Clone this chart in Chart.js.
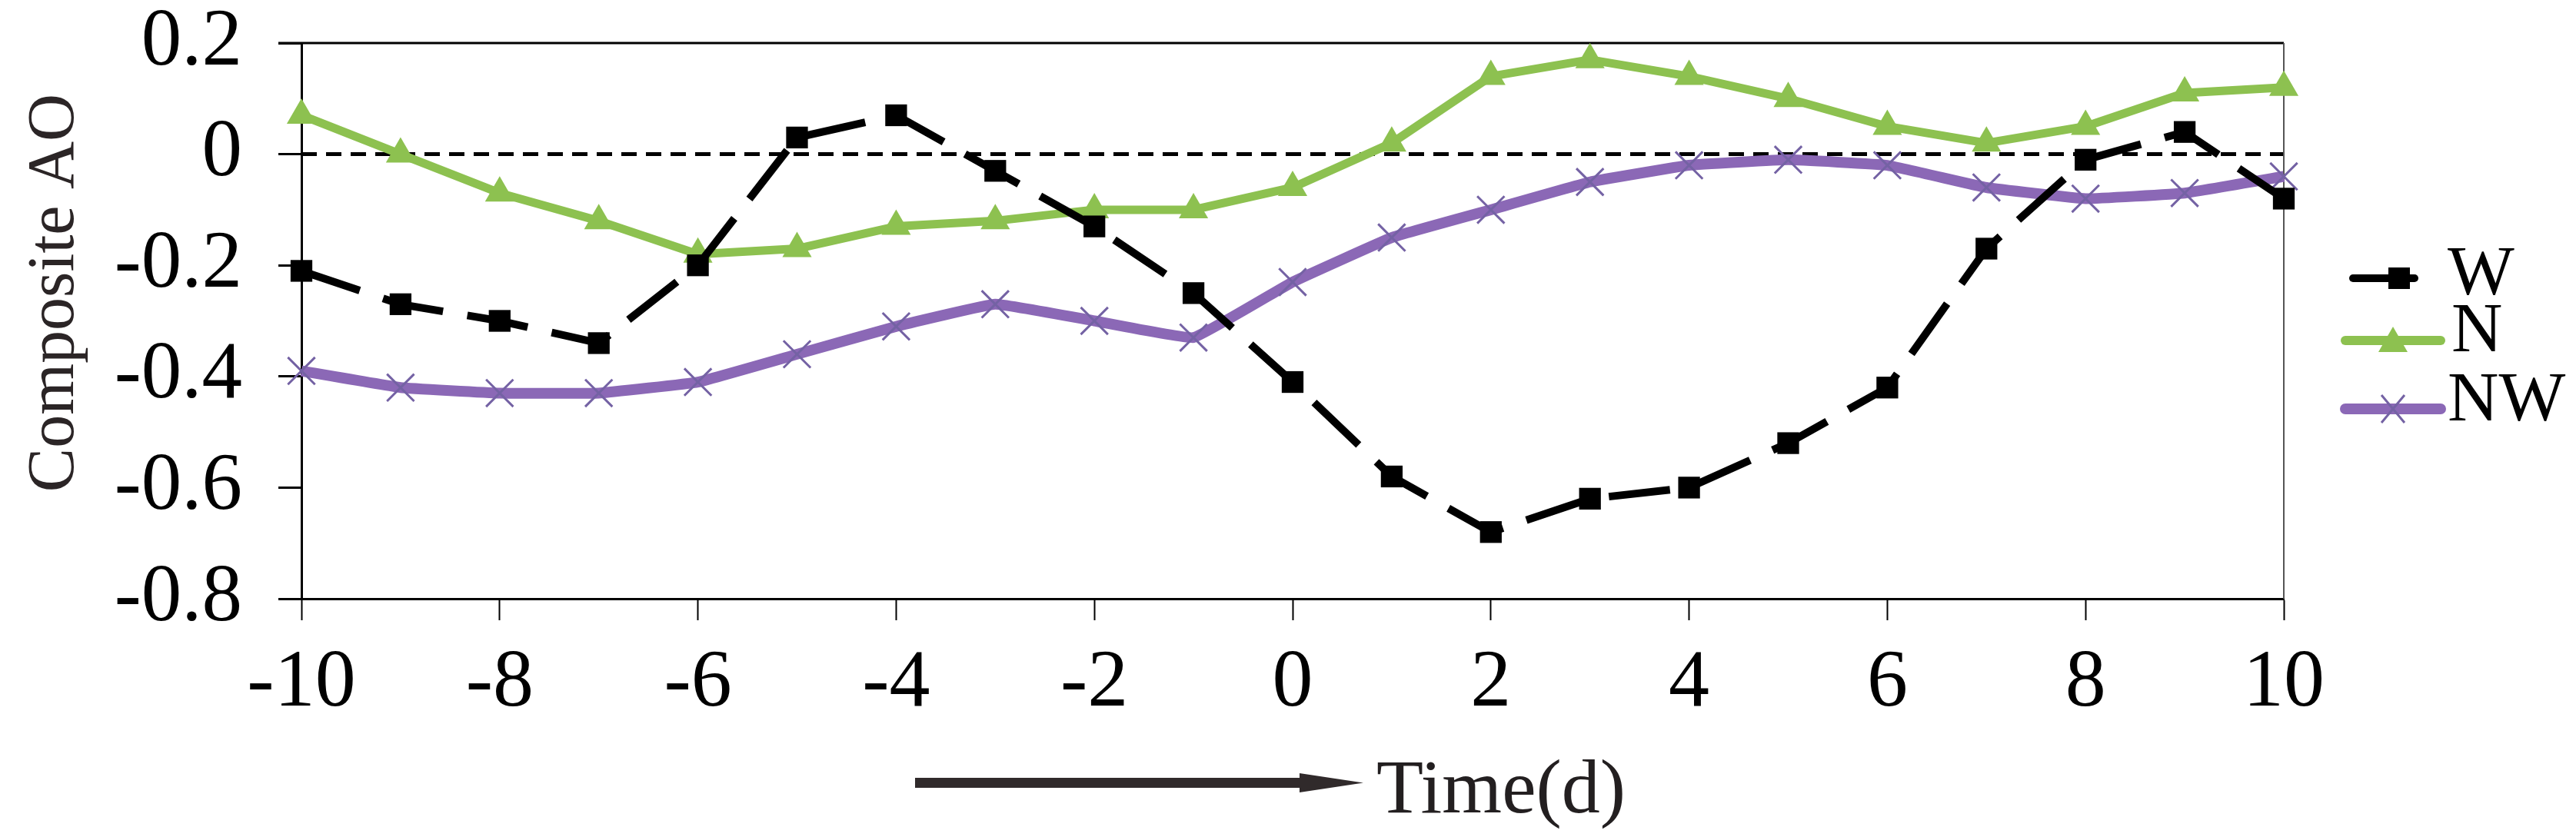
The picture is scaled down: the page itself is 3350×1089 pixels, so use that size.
<!DOCTYPE html>
<html>
<head>
<meta charset="utf-8">
<script src="https://cdn.jsdelivr.net/npm/chart.js@4/dist/chart.umd.min.js"></script>
<style>
html,body{margin:0;padding:0;background:#fff;}
#wrap{width:3350px;height:1089px;}
</style>
</head>
<body>
<div id="wrap"><canvas id="c" width="3350" height="1089"></canvas></div>
<script>
// ---- data ----
const days = [-10,-9,-8,-7,-6,-5,-4,-3,-2,-1,0,1,2,3,4,5,6,7,8,9,10];
const W  = [-0.21,-0.27,-0.30,-0.34,-0.20,0.03,0.07,-0.03,-0.13,-0.25,-0.41,-0.58,-0.68,-0.62,-0.60,-0.52,-0.42,-0.17,-0.01,0.04,-0.08];
const N  = [0.07,0.00,-0.07,-0.12,-0.18,-0.17,-0.13,-0.12,-0.10,-0.10,-0.06,0.02,0.14,0.17,0.14,0.10,0.05,0.02,0.05,0.11,0.12];
const NW = [-0.39,-0.42,-0.43,-0.43,-0.41,-0.36,-0.31,-0.27,-0.30,-0.33,-0.23,-0.15,-0.10,-0.05,-0.02,-0.01,-0.02,-0.06,-0.08,-0.07,-0.04];
const seriesNames = ['W','N','NW'];
const yTickValues = [0.2,0,-0.2,-0.4,-0.6,-0.8];
const yTickLabels = ['0.2','0','-0.2','-0.4','-0.6','-0.8'];
const xTickValues = [-10,-8,-6,-4,-2,0,2,4,6,8,10];
const xTickLabels = ['-10','-8','-6','-4','-2','0','2','4','6','8','10'];
const yTitle = 'Composite AO';
const xTitle = 'Time(d)';

// ---- style ----
const SERIF = '"Liberation Serif","Times New Roman",serif';
const cW = '#000000', cN = '#8DC150', cNW = '#8B68B6', cNWmark = '#7462A4';

function pts(arr){ return days.map((d,i)=>({x:d,y:arr[i]})); }

const decor = {
  id:'decor',
  beforeDatasetsDraw(chart){
    const ctx = chart.ctx, a = chart.chartArea, y = chart.scales.y;
    ctx.save();
    const y0 = y.getPixelForValue(0);
    ctx.strokeStyle = '#000'; ctx.lineWidth = 5; ctx.setLineDash([20,12]);
    ctx.beginPath(); ctx.moveTo(a.left, y0); ctx.lineTo(a.right, y0); ctx.stroke();
    ctx.setLineDash([]);
    ctx.strokeStyle = '#000'; ctx.lineWidth = 3;
    ctx.beginPath(); ctx.moveTo(a.left-30, a.top); ctx.lineTo(a.right, a.top); ctx.stroke();
    ctx.strokeStyle = '#555'; ctx.lineWidth = 2;
    ctx.beginPath(); ctx.moveTo(a.right, a.top); ctx.lineTo(a.right, a.bottom); ctx.stroke();
    ctx.restore();
  },
  afterDraw(chart){
    const ctx = chart.ctx;
    ctx.save();
    ctx.fillStyle = '#2b2526';
    ctx.font = '86px ' + SERIF;
    ctx.translate(95, 381);
    ctx.rotate(-Math.PI/2);
    ctx.textAlign = 'center'; ctx.textBaseline = 'alphabetic';
    ctx.fillText(yTitle, 0, 0);
    ctx.restore();

    ctx.save();
    ctx.fillStyle = '#302a2b';
    ctx.fillRect(1190, 1012, 505, 13);
    ctx.beginPath(); ctx.moveTo(1690, 1006); ctx.lineTo(1773, 1018.5); ctx.lineTo(1690, 1031); ctx.closePath(); ctx.fill();
    ctx.fillStyle = '#231f20';
    ctx.font = '100px ' + SERIF;
    ctx.textAlign = 'left'; ctx.textBaseline = 'alphabetic';
    ctx.fillText(xTitle, 1790, 1057);

    const ds = chart.data.datasets;
    ctx.font = '92px ' + SERIF; ctx.fillStyle = '#000';
    ctx.strokeStyle = ds[0].borderColor; ctx.lineWidth = 10; ctx.lineCap = 'round';
    ctx.beginPath(); ctx.moveTo(3060, 362); ctx.lineTo(3140, 362); ctx.stroke();
    ctx.fillStyle = ds[0].pointBackgroundColor; ctx.fillRect(3106, 348, 28, 28);
    ctx.fillStyle = '#000'; ctx.fillText(seriesNames[0], 3183, 383);
    ctx.strokeStyle = ds[1].borderColor; ctx.lineWidth = 12;
    ctx.beginPath(); ctx.moveTo(3050, 443); ctx.lineTo(3174, 443); ctx.stroke();
    ctx.fillStyle = ds[1].pointBackgroundColor;
    ctx.beginPath(); ctx.moveTo(3112, 425); ctx.lineTo(3131, 458); ctx.lineTo(3093, 458); ctx.closePath(); ctx.fill();
    ctx.fillStyle = '#000'; ctx.fillText(seriesNames[1], 3188, 457);
    ctx.strokeStyle = ds[2].borderColor; ctx.lineWidth = 14;
    ctx.beginPath(); ctx.moveTo(3050, 532); ctx.lineTo(3174, 532); ctx.stroke();
    ctx.strokeStyle = ds[2].pointBorderColor; ctx.lineWidth = 3; ctx.lineCap = 'butt';
    ctx.beginPath(); ctx.moveTo(3097, 514); ctx.lineTo(3127, 550); ctx.moveTo(3127, 514); ctx.lineTo(3097, 550); ctx.stroke();
    ctx.fillStyle = '#000'; ctx.fillText(seriesNames[2], 3183, 547);
    ctx.restore();
  }
};

new Chart(document.getElementById('c'), {
  type: 'line',
  data: {
    datasets: [
      { label: seriesNames[0], data: pts(W), borderColor: cW, backgroundColor: cW, borderWidth: 10,
        borderDash: [80,32], borderCapStyle: 'butt', tension: 0,
        pointStyle: 'rect', pointRadius: 20, pointBackgroundColor: cW, pointBorderColor: cW, pointBorderWidth: 0, clip: false },
      { label: seriesNames[1], data: pts(N), borderColor: cN, backgroundColor: cN, borderWidth: 11, tension: 0,
        borderJoinStyle: 'round',
        pointStyle: 'triangle', pointRadius: 22, pointBackgroundColor: cN, pointBorderColor: cN, pointBorderWidth: 0, clip: false },
      { label: seriesNames[2], data: pts(NW), borderColor: cNW, backgroundColor: cNW, borderWidth: 14, tension: 0.08,
        borderJoinStyle: 'round',
        pointStyle: 'crossRot', pointRadius: 25, pointBackgroundColor: cNWmark, pointBorderColor: cNWmark, pointBorderWidth: 3, clip: false }
    ]
  },
  options: {
    responsive: false,
    animation: false,
    devicePixelRatio: 1,
    layout: { padding: { left: 0, top: 56, right: 380, bottom: 0 } },
    plugins: { legend: { display: false }, tooltip: { enabled: false }, title: { display: false } },
    scales: {
      x: {
        type: 'linear', min: -10, max: 10,
        afterBuildTicks: s => { s.ticks = xTickValues.map(v => ({value: v})); },
        afterFit: s => { s.height = 310; s.paddingLeft = 0; s.paddingRight = 0; },
        grid: { drawOnChartArea: false, drawTicks: true, tickLength: 28, tickWidth: 2, tickColor: '#000' },
        border: { display: true, color: '#000', width: 3 },
        ticks: { color: '#000', font: { family: SERIF, size: 106 }, padding: 20, maxRotation: 0, autoSkip: false,
          callback: (v) => { const i = xTickValues.indexOf(v); return i >= 0 ? xTickLabels[i] : ''; } }
      },
      y: {
        min: -0.8, max: 0.2,
        afterBuildTicks: s => { s.ticks = yTickValues.map(v => ({value: v})); },
        afterFit: s => { s.width = 392; s.paddingTop = 0; s.paddingBottom = 0; },
        grid: { drawOnChartArea: false, drawTicks: true, tickLength: 30, tickWidth: 3, tickColor: '#000' },
        border: { display: true, color: '#000', width: 3 },
        ticks: { color: '#000', font: { family: SERIF, size: 105 }, padding: 47,
          callback: (v) => { const i = yTickValues.findIndex(t => Math.abs(t - v) < 1e-9); return i >= 0 ? yTickLabels[i] : ''; } }
      }
    }
  },
  plugins: [decor]
});
</script>
</body>
</html>
